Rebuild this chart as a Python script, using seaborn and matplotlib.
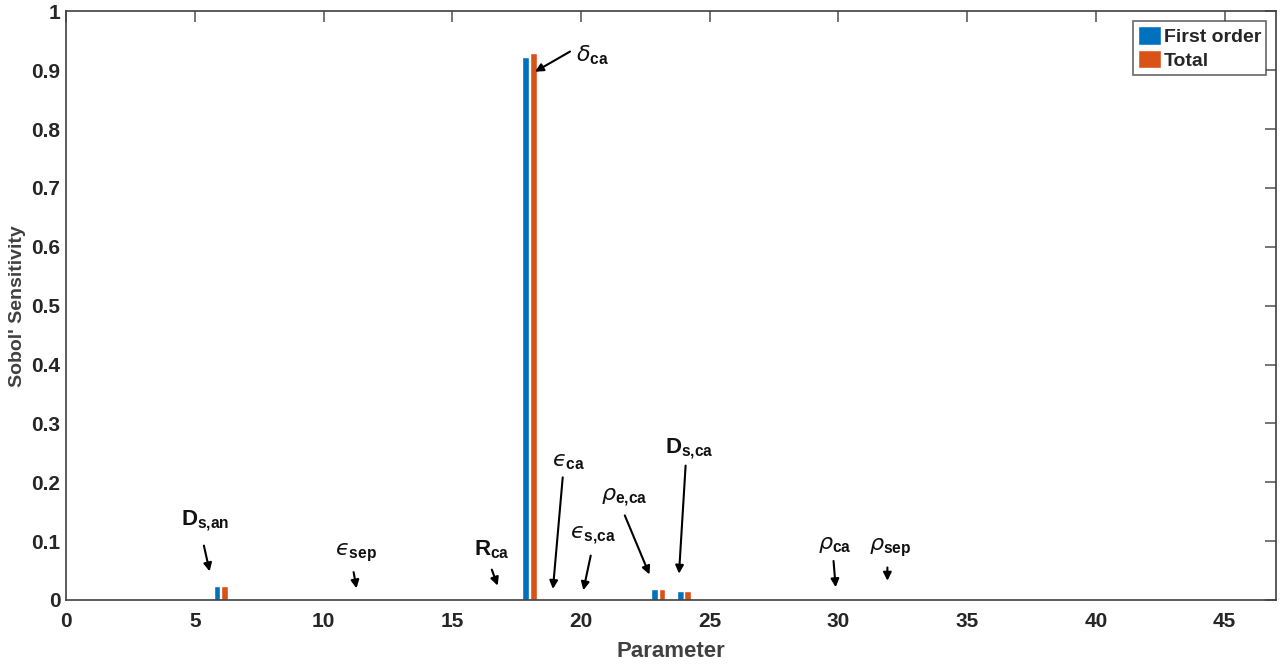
import numpy as np
import pandas as pd
import matplotlib
matplotlib.use("Agg")
import matplotlib.pyplot as plt
import seaborn as sns

# Sobol' indices per parameter (1..46); nearly all zero except a few
params = list(range(1, 47))
nonzero_params = [6, 17, 18, 20, 23, 24, 30, 32]
nonzero_first = [0.023, 0.0, 0.922, 0.0, 0.018, 0.016, 0.0, 0.002]
nonzero_total = [0.023, 0.0015, 0.929, 0.001, 0.018, 0.016, 0.001, 0.002]

first_order = [0.0] * len(params)
total = [0.0] * len(params)
for p, fo, tt in zip(nonzero_params, nonzero_first, nonzero_total):
    first_order[p - 1] = fo
    total[p - 1] = tt

series_names = ["First order", "Total"]
colors = ["#0072BD", "#D95319"]

EPS = "\u03f5"
# annotation: label, text centre, arrow tail, arrow head (data coords)
annotations = [
    (r"$\mathbf{D}_{\mathbf{s{,}an}}$", (5.4, 0.135), (5.33, 0.097), (5.6, 0.044)),
    (r"$%s_{\mathbf{sep}}$" % EPS, (11.25, 0.08), (11.15, 0.052), (11.3, 0.015)),
    (r"$\mathbf{R}_{\mathbf{ca}}$", (16.55, 0.085), (16.5, 0.056), (16.8, 0.020)),
    (r"$\delta_{\mathbf{ca}}$", (20.45, 0.925), (19.67, 0.934), (18.12, 0.895)),
    (r"$%s_{\mathbf{ca}}$" % EPS, (19.5, 0.236), (19.3, 0.213), (18.9, 0.014)),
    (r"$%s_{\mathbf{s{,}ca}}$" % EPS, (20.45, 0.11), (20.4, 0.08), (20.07, 0.012)),
    (r"$\rho_{\mathbf{e{,}ca}}$", (21.7, 0.175), (21.66, 0.148), (22.7, 0.039)),
    (r"$\mathbf{D}_{\mathbf{s{,}ca}}$", (24.2, 0.258), (24.07, 0.233), (23.8, 0.040)),
    (r"$\rho_{\mathbf{ca}}$", (29.86, 0.095), (29.8, 0.071), (29.9, 0.017)),
    (r"$\rho_{\mathbf{sep}}$", (32.0, 0.088), (31.9, 0.060), (31.9, 0.028)),
]

df = pd.DataFrame({
    "Parameter": params * 2,
    "value": first_order + total,
    "series": [series_names[0]] * len(params) + [series_names[1]] * len(params),
})

sns.set_style("white")
plt.rcParams["font.family"] = ["Liberation Sans", "DejaVu Sans"]
plt.rcParams["mathtext.fontset"] = "custom"
plt.rcParams["mathtext.rm"] = "Liberation Sans"
plt.rcParams["mathtext.bf"] = "Liberation Sans:bold"
plt.rcParams["mathtext.it"] = "DejaVu Sans:italic"

fig = plt.figure(figsize=(12.8, 6.64), dpi=100)
ax = fig.add_axes([0.0516, 0.0964, 0.9454, 0.8866])

sns.barplot(data=df, x="Parameter", y="value", hue="series", native_scale=True,
            palette=colors, width=0.58, gap=0.12, ax=ax, saturation=1, errorbar=None)

for label, txt, tail, head in annotations:
    ax.annotate("", xy=head, xytext=tail,
                arrowprops=dict(arrowstyle="-|>", color="black", lw=1.5, mutation_scale=12))
    ax.text(txt[0], txt[1], label, fontsize=16, ha="center", va="center", color="#111111")

ax.set_xlim(0, 47)
ax.set_ylim(0, 1)
ax.set_xticks(np.arange(0, 46, 5))
ax.set_yticks(np.arange(0, 1.01, 0.1))
ax.set_yticklabels(["0"] + [f"{v:.1f}" for v in np.arange(0.1, 0.95, 0.1)] + ["1"])
ax.tick_params(direction="in", top=True, right=True, length=8, width=1.1, colors="#505050",
               labelcolor="#262626", labelsize=15)
ax.tick_params(axis="x", pad=9)
ax.tick_params(axis="y", pad=4)
for lab in ax.get_xticklabels() + ax.get_yticklabels():
    lab.set_fontweight("bold")
for s in ax.spines.values():
    s.set_color("#404040")
    s.set_linewidth(1.2)

ax.set_xlabel("Parameter", fontsize=16, fontweight="bold", color="#404040", labelpad=7)
ax.set_ylabel("Sobol' Sensitivity", fontsize=14, fontweight="bold", color="#404040", labelpad=4)

leg = ax.legend(loc="upper right", fontsize=14, frameon=True, fancybox=False,
                handlelength=1.2, handleheight=1.1, handletextpad=0.15,
                borderpad=0.25, labelspacing=0.2, borderaxespad=0.5)
leg.get_frame().set_edgecolor("#404040")
leg.get_frame().set_linewidth(1.2)
for t in leg.get_texts():
    t.set_fontweight("bold")

fig.savefig("out.png", dpi=100)
